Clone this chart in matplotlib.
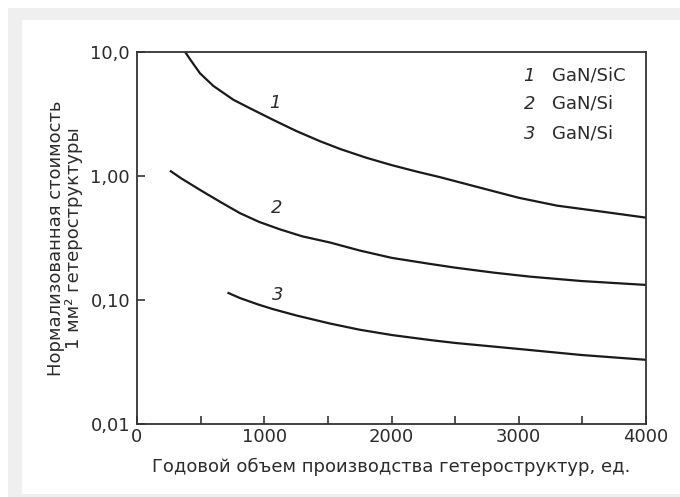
import matplotlib
matplotlib.use("Agg")
import matplotlib.pyplot as plt
from matplotlib.patches import Rectangle
from matplotlib.ticker import FixedLocator, NullLocator

plt.rcParams['font.family'] = ['DejaVu Sans']

# Data
x1 = [377, 420, 495, 600, 757, 900, 1071, 1250, 1438, 1600, 1800, 2000, 2200,
      2381, 2700, 3000, 3300, 3650, 4000]
y1 = [10.0, 8.6, 6.7, 5.3, 4.1, 3.45, 2.82, 2.3, 1.9, 1.64, 1.40, 1.22, 1.08,
      0.975, 0.80, 0.665, 0.575, 0.515, 0.46]

x2 = [259, 350, 495, 650, 809, 960, 1124, 1300, 1517, 1750, 2003, 2303, 2499,
      2800, 3088, 3490, 4000]
y2 = [1.10, 0.95, 0.77, 0.62, 0.50, 0.425, 0.37, 0.325, 0.29, 0.25, 0.218,
      0.195, 0.182, 0.166, 0.154, 0.142, 0.132]

x3 = [711, 809, 950, 1070, 1250, 1517, 1750, 2003, 2303, 2499, 2994, 3490, 4000]
y3 = [0.1145, 0.1035, 0.092, 0.0842, 0.075, 0.0645, 0.0575, 0.0521, 0.0475,
      0.0450, 0.0403, 0.0360, 0.0329]

series_ids = ['1', '2', '3']
series_names = ['GaN/SiC', 'GaN/Si', 'GaN/Si']

x_ticks = [0, 1000, 2000, 3000, 4000]
x_minor = [500, 1500, 2500, 3500]
y_ticks = [0.01, 0.1, 1.0, 10.0]
y_ticklabels = ['0,01', '0,10', '1,00', '10,0']

W, H = 680, 497
fig = plt.figure(figsize=(W / 100, H / 100), dpi=100)
fig.patch.set_facecolor('white')

# background frame
fig.add_artist(Rectangle((8 / W, 0), 1 - 8 / W, 1 - 8 / H, transform=fig.transFigure,
                         facecolor='#efefef', edgecolor='none', zorder=-10))
fig.add_artist(Rectangle((22 / W, 3 / H), 1 - 22 / W, 1 - 23 / H, transform=fig.transFigure,
                         facecolor='white', edgecolor='none', zorder=-9))

left, right = 137 / W, 646 / W
top, bottom = 1 - 51.7 / H, 1 - 424 / H
ax = fig.add_axes([left, bottom, right - left, top - bottom])
ax.set_facecolor('white')

line_color = '#1a1a1a'
for xs, ys in [(x1, y1), (x2, y2), (x3, y3)]:
    ax.plot(xs, ys, color=line_color, lw=1.6, solid_capstyle='butt',
            solid_joinstyle='round', clip_on=True)

ax.set_yscale('log')
ax.set_xlim(0, 4000)
ax.set_ylim(0.01, 10)

ax.xaxis.set_major_locator(FixedLocator(x_ticks))
ax.xaxis.set_minor_locator(FixedLocator(x_minor))
ax.set_xticklabels([str(v) for v in x_ticks])
ax.yaxis.set_major_locator(FixedLocator(y_ticks))
ax.yaxis.set_minor_locator(NullLocator())
ax.set_yticklabels(y_ticklabels)

text_color = '#2b2b2b'
fs = 13
ax.tick_params(axis='both', which='both', direction='in', colors='#333333',
               labelcolor=text_color, labelsize=fs, width=1.2)
ax.tick_params(axis='x', which='both', length=6, pad=3)
ax.tick_params(axis='y', which='major', length=6, pad=5)
for sp in ax.spines.values():
    sp.set_color('#333333')
    sp.set_linewidth(1.3)

# curve labels
for xl, yl, t in [(1085, 3.86, '1'), (1098, 0.55, '2'), (1108, 0.109, '3')]:
    ax.text(xl, yl, t, style='italic', fontsize=fs, color=text_color,
            ha='center', va='center')

# legend text
leg_y = [0.935, 0.860, 0.779]
for yy, sid, name in zip(leg_y, series_ids, series_names):
    ax.text(0.782, yy, sid, transform=ax.transAxes, style='italic', fontsize=fs,
            color=text_color, ha='right', va='center')
    ax.text(0.815, yy, name, transform=ax.transAxes, fontsize=fs,
            color=text_color, ha='left', va='center')

fig.text(391.5 / W, 1 - 467 / H, 'Годовой объем производства гетероструктур, ед.',
         fontsize=fs, color=text_color, ha='center', va='center')
fig.text(65 / W, 1 - 238 / H, 'Нормализованная стоимость\n1 мм² гетероструктуры',
         fontsize=fs, color=text_color, ha='center', va='center', rotation=90,
         multialignment='center', linespacing=1.0)

fig.savefig('out.png', dpi=100, facecolor=fig.get_facecolor())
